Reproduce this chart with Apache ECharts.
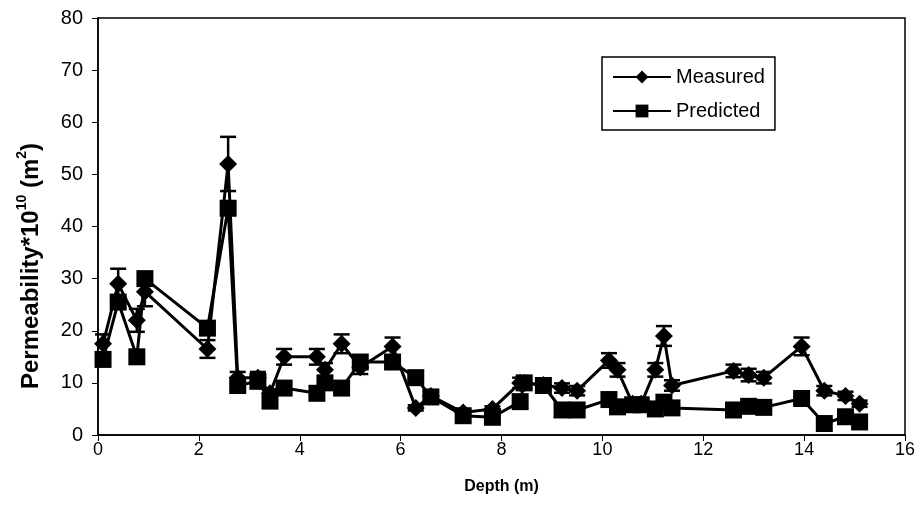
<!DOCTYPE html>
<html>
<head>
<meta charset="utf-8">
<script src="https://cdn.jsdelivr.net/npm/echarts@6/dist/echarts.min.js"></script>
<style>html,body{margin:0;padding:0;background:#fff}#c{width:921px;height:527px}</style>
</head>
<body>
<div id="c"></div>
<script>
var depth = [0.1,0.4,0.77,0.93,2.17,2.58,2.77,3.17,3.41,3.69,4.34,4.5,4.83,5.2,5.84,6.3,6.6,7.24,7.82,8.37,8.45,8.83,9.2,9.5,10.13,10.3,10.6,10.77,11.05,11.22,11.38,12.6,12.9,13.2,13.95,14.4,14.82,15.1];
var measured = [17.5,29,22,27.5,16.5,52,11,11,8,15,15,12.5,17.5,13,17,5.2,7.5,4.3,5,10,10,9.6,9,8.5,14.3,12.5,6,6,12.5,19,9.5,12.3,11.5,11,17,8.5,7.5,6];
var predicted = [14.5,25.5,15,30,20.5,43.5,9.5,10.3,6.5,9,8,10,9,14,14,11,7.3,3.7,3.4,6.4,10,9.5,4.8,4.8,6.8,5.4,5.8,5.8,5,6.3,5.2,4.8,5.5,5.3,7,2.2,3.5,2.5];
var measuredErr = [1.8,2.9,2.2,2.8,1.7,5.2,1.1,1.1,0.8,1.5,1.5,1.3,1.8,1.3,1.7,0.5,0.8,0.4,0.5,1,1,1,0.9,0.9,1.4,1.3,0.6,0.6,1.3,1.9,1,1.2,1.2,1.1,1.7,0.9,0.8,0.6];
var xTicks = [0,2,4,6,8,10,12,14,16];
var yTicks = [0,10,20,30,40,50,60,70,80];

var mData = depth.map(function(d,i){return [d, measured[i]];});
var pData = depth.map(function(d,i){return [d, predicted[i]];});
var eData = depth.map(function(d,i){return [d, measured[i]-measuredErr[i], measured[i]+measuredErr[i]];});

var chart = echarts.init(document.getElementById('c'));
var FONT = 'Liberation Sans, Arial, sans-serif';
chart.setOption({
  animation: false,
  backgroundColor: '#fff',
  textStyle: {fontFamily: FONT},
  grid: {left: 98, right: 16, top: 18, bottom: 92, show: true, borderColor: '#000', borderWidth: 1.5, backgroundColor: 'transparent'},
  legend: {
    orient: 'vertical', left: 602, top: 57,
    borderColor: '#000', borderWidth: 1.5, padding: [10, 10, 9, 10],
    itemWidth: 58, itemHeight: 16, itemGap: 14,
    textStyle: {fontSize: 20, color: '#000', fontFamily: FONT},
    data: ['Measured', 'Predicted']
  },
  graphic: [{
    type: 'text', x: 29, y: 266, rotation: Math.PI / 2,
    style: {
      text: '{b|Permeability*10}{s|10}{b| (m}{s|2}{b|)}',
      align: 'center', verticalAlign: 'middle', fill: '#000',
      rich: {
        b: {fontSize: 24, fontWeight: 'bold', fill: '#000', fontFamily: FONT, verticalAlign: 'bottom', lineHeight: 28},
        s: {fontSize: 14, fontWeight: 'bold', fill: '#000', fontFamily: FONT, verticalAlign: 'top', lineHeight: 28, padding: [0,0,12,0]}
      }
    }
  }],
  xAxis: {
    type: 'value', min: xTicks[0], max: xTicks[xTicks.length-1], interval: 2,
    name: 'Depth (m)', nameLocation: 'middle', nameGap: 44,
    nameTextStyle: {fontSize: 16, fontWeight: 'bold', color: '#000'},
    axisLine: {lineStyle: {color: '#000', width: 1.5}},
    axisTick: {show: true, inside: false, length: 6, lineStyle: {color: '#000'}},
    axisLabel: {fontSize: 18, color: '#000', margin: 6},
    splitLine: {show: false}
  },
  yAxis: {
    type: 'value', min: yTicks[0], max: yTicks[yTicks.length-1], interval: 10,
    axisLine: {show: true, lineStyle: {color: '#000', width: 1.5}},
    axisTick: {show: true, inside: false, length: 6, lineStyle: {color: '#000'}},
    axisLabel: {fontSize: 20, color: '#000', margin: 15},
    splitLine: {show: false}
  },
  series: [
    {
      name: 'Measured', type: 'line', data: mData,
      symbol: 'diamond', symbolSize: [18, 18],
      itemStyle: {color: '#000'}, lineStyle: {color: '#000', width: 3}, z: 3
    },
    {
      name: 'Predicted', type: 'line', data: pData,
      symbol: 'rect', symbolSize: [17, 17],
      itemStyle: {color: '#000'}, lineStyle: {color: '#000', width: 3}, z: 4
    },
    {
      name: 'err', type: 'custom', data: eData, z: 5, silent: true,
      renderItem: function(params, api) {
        var x = api.value(0);
        var lo = api.coord([x, api.value(1)]);
        var hi = api.coord([x, api.value(2)]);
        var w = 8;
        var st = {stroke: '#000', lineWidth: 2.5};
        return {type: 'group', children: [
          {type: 'line', shape: {x1: lo[0], y1: lo[1], x2: hi[0], y2: hi[1]}, style: st},
          {type: 'line', shape: {x1: lo[0]-w, y1: lo[1], x2: lo[0]+w, y2: lo[1]}, style: st},
          {type: 'line', shape: {x1: hi[0]-w, y1: hi[1], x2: hi[0]+w, y2: hi[1]}, style: st}
        ]};
      }
    }
  ]
});
</script>
</body>
</html>
